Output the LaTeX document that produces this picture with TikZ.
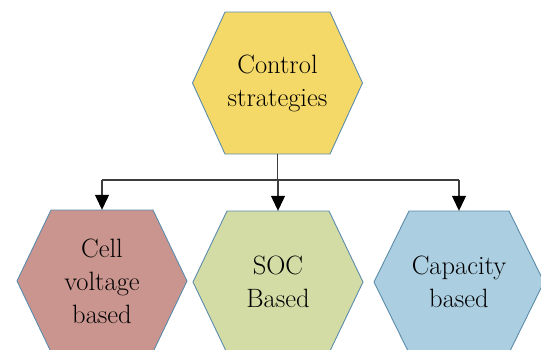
\documentclass[tikz,border=0pt]{standalone}
\usetikzlibrary{arrows.meta}

\definecolor{hexborder}{RGB}{92,140,172}
\definecolor{hexyellow}{RGB}{245,217,104}
\definecolor{hexrose}{RGB}{202,149,143}
\definecolor{hexgreen}{RGB}{211,220,165}
\definecolor{hexblue}{RGB}{171,206,224}
\definecolor{wire}{RGB}{60,60,60}

\tikzset{
  hexline/.style={draw=hexborder, line width=0.9pt},
  hextext/.style={draw=none, inner sep=0pt, align=center,
    font=\fontsize{26.5}{33}\selectfont, text=black},
  wireline/.style={draw=wire, line width=1.1pt},
  wirearrow/.style={wireline, -{Triangle[length=15pt,width=14pt,color=black]}},
}

% hexagon with flat top/bottom: name, cx, cy, half-width at the side corners,
% half-length of the flat edges, fill colour, label
\newcommand{\hexbox}[7]{%
  \filldraw[hexline, fill=#6]
    (#2-#4,#3) -- (#2-#5,#3-71) -- (#2+#5,#3-71) -- (#2+#4,#3)
    -- (#2+#5,#3+71) -- (#2-#5,#3+71) -- cycle;
  \node[hextext, minimum width={2*#5pt}, minimum height=142pt] (#1) at (#2,#3) {#7};
}

\begin{document}
\begin{tikzpicture}[x=1pt, y=-1pt]
  \useasboundingbox (0,0) rectangle (541,349);

  \hexbox{top}{277.5}{83}{85}{52.5}{hexyellow}{Control\\strategies}
  \hexbox{cell}{102}{281}{85}{51}{hexrose}{Cell\\voltage\\based}
  \hexbox{soc}{278}{282}{85}{51}{hexgreen}{SOC\\Based}
  \hexbox{cap}{459}{282}{85}{50}{hexblue}{Capacity\\based}

  \coordinate (bus) at (0,180);

  \draw[wireline] (top.south) -- (top.south |- bus);
  \draw[wireline] (cell.north |- bus) -- (cap.north |- bus);
  \draw[wirearrow] (cell.north |- bus) -- (cell.north);
  \draw[wirearrow] (soc.north |- bus) -- (soc.north);
  \draw[wirearrow] (cap.north |- bus) -- (cap.north);
\end{tikzpicture}
\end{document}
